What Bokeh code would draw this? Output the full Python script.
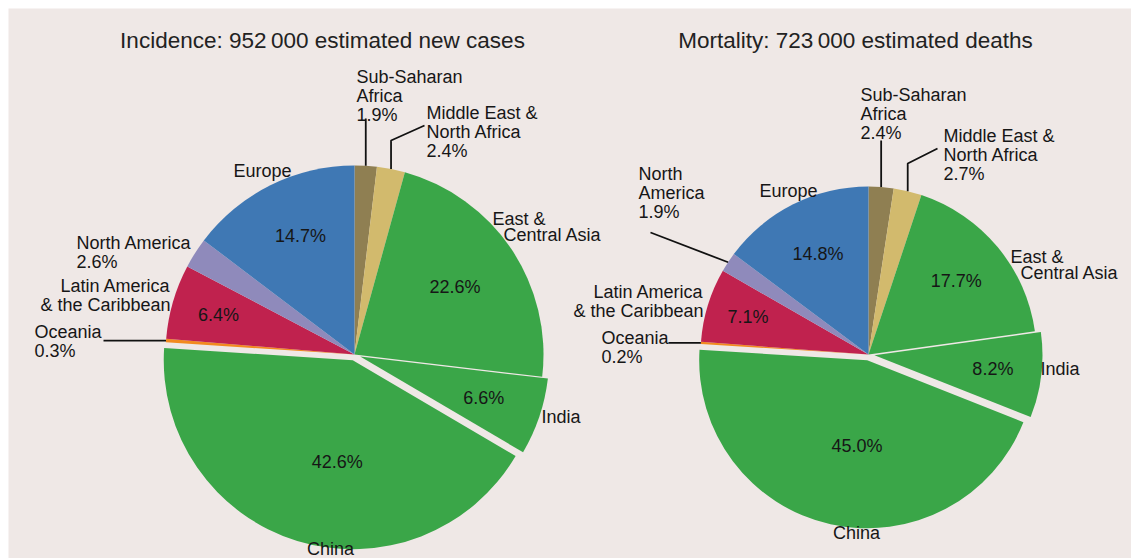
import math
import numpy as np
from bokeh.plotting import figure
from bokeh.models import Range1d
from bokeh.embed import file_html
from bokeh.resources import INLINE
from bokeh.core.properties import value

# ---------------- data ----------------
regions = ["Sub-Saharan Africa", "Middle East & North Africa", "East & Central Asia",
           "India", "China", "Oceania", "Latin America & the Caribbean",
           "North America", "Europe"]
incidence_pct = [1.9, 2.4, 22.6, 6.6, 42.6, 0.3, 6.4, 2.6, 14.7]
mortality_pct = [2.4, 2.7, 17.7, 8.2, 45.0, 0.2, 7.1, 1.9, 14.8]
incidence_title = "Incidence: 952\u2009000 estimated new cases"
mortality_title = "Mortality: 723\u2009000 estimated deaths"

# ---------------- style ----------------
slice_colors = ["#8f7f52", "#d2ba6d", "#3aa648", "#3aa648", "#3aa648",
                "#f28a1f", "#c0224e", "#8f8abb", "#3f78b4"]
exploded = ["India", "China"]
BG = "#efe8e6"
FONT = value("Liberation Sans")
TXT = "#161616"
LBL = "18px"

W, H = 1131, 558
p = figure(width=W, height=H, x_range=Range1d(8, W), y_range=Range1d(-H, -8),
           output_backend="svg", toolbar_location=None,
           min_border_left=8, min_border_top=8, min_border_right=0, min_border_bottom=0,
           x_axis_type=None, y_axis_type=None,
           background_fill_color=BG, border_fill_color="white", outline_line_color=None)
p.grid.visible = False


def Y(y):  # page layout y (downwards) -> data y
    return -y


def draw_pie(vals, cx, cy, r, d, inner_pos, title, tx, ty):
    v = np.array(vals, dtype=float)
    cum = np.concatenate([[0.0], np.cumsum(v)]) / v.sum() * 2 * math.pi
    t1, t2 = cum[:-1], cum[1:]          # clockwise from 12 o'clock
    mid = (t1 + t2) / 2
    off = np.array([d if reg in exploded else 0.0 for reg in regions])
    xs = cx + off * np.sin(mid)
    ys = Y(cy) + off * np.cos(mid)
    p.wedge(x=list(xs), y=list(ys), radius=r,
            start_angle=list(math.pi / 2 - t2), end_angle=list(math.pi / 2 - t1),
            fill_color=slice_colors, line_color=None)
    # inner percentage labels (radius fraction, angle nudge in degrees)
    lx, ly, lt = [], [], []
    for i, reg in enumerate(regions):
        if reg in inner_pos:
            frac, nudge = inner_pos[reg]
            a = mid[i] + math.radians(nudge)
            lx.append(xs[i] + frac * r * math.sin(a))
            ly.append(ys[i] + frac * r * math.cos(a))
            lt.append(f"{vals[i]:.1f}%")
    p.text(x=lx, y=ly, text=lt, text_font=FONT, text_font_size=LBL,
           text_align="center", text_baseline="middle", text_color=TXT)
    p.text(x=[tx], y=[Y(ty)], text=[title], text_font=FONT, text_font_size="22.5px",
           text_align="center", text_baseline="middle", text_color="#222222")
    # arc points for leader lines
    arc = {reg: (cx + r * math.sin(mid[i]), Y(cy) + r * math.cos(mid[i]))
           for i, reg in enumerate(regions)}
    return arc


def pct(vals, reg):
    return f"{vals[regions.index(reg)]:.1f}%"


def draw_labels(labels):
    for align in ("left", "right", "center"):
        sel = [l for l in labels if l[3] == align]
        if not sel:
            continue
        p.text(x=[l[1] for l in sel], y=[Y(l[2]) for l in sel], text=[l[0] for l in sel],
               text_font=FONT, text_font_size=LBL, text_align=align,
               text_baseline="middle", text_line_height=0.95, text_color=TXT)


def leaders(lines):
    p.multi_line(xs=[[pt[0] for pt in ln] for ln in lines],
                 ys=[[pt[1] for pt in ln] for ln in lines],
                 line_color="#111111", line_width=1.8)


# ---------------- left pie: incidence ----------------
arcL = draw_pie(incidence_pct, 354, 354, 189, 6,
                {"Europe": (0.69, 2), "East & Central Asia": (0.64, 0),
                 "Latin America & the Caribbean": (0.75, 0),
                 "India": (0.69, 0), "China": (0.545, -8.4)},
                incidence_title, 322, 40)
v = incidence_pct
draw_labels([
    ("Sub-Saharan\nAfrica\n" + pct(v, "Sub-Saharan Africa"), 356, 95, "left"),
    ("Middle East &\nNorth Africa\n" + pct(v, "Middle East & North Africa"), 426, 131, "left"),
    ("East &", 492, 218, "left"),
    ("Central Asia", 503, 234, "left"),
    ("India", 541, 416, "left"),
    ("China", 330, 548, "center"),
    ("Oceania\n" + pct(v, "Oceania"), 34, 341, "left"),
    ("Latin America\n& the Caribbean", 170, 295, "right"),
    ("North America\n" + pct(v, "North America"), 76, 252, "left"),
    ("Europe", 262, 170, "center"),
])
ax, ay = arcL["Sub-Saharan Africa"]
bx, by = arcL["Middle East & North Africa"]
ox, oy = arcL["Oceania"]
leaders([
    [(ax, ay), (ax, Y(118))],
    [(bx, by), (bx, Y(140)), (424, Y(125))],
    [(ox, oy), (103, oy)],
])

# ---------------- right pie: mortality ----------------
arcR = draw_pie(mortality_pct, 868, 354, 168, 6,
                {"Europe": (0.67, 0), "East & Central Asia": (0.68, 0),
                 "Latin America & the Caribbean": (0.75, 0),
                 "India": (0.71, 0), "China": (0.516, -5.8)},
                mortality_title, 855, 40)
v = mortality_pct
draw_labels([
    ("Sub-Saharan\nAfrica\n" + pct(v, "Sub-Saharan Africa"), 860, 113, "left"),
    ("Middle East &\nNorth Africa\n" + pct(v, "Middle East & North Africa"), 943, 154, "left"),
    ("East &", 1010, 256, "left"),
    ("Central Asia", 1020, 272, "left"),
    ("India", 1040, 368, "left"),
    ("China", 856, 532, "center"),
    ("Oceania\n" + pct(v, "Oceania"), 601, 347, "left"),
    ("Latin America\n& the Caribbean", 703, 301, "right"),
    ("North\nAmerica\n" + pct(v, "North America"), 638, 192, "left"),
    ("Europe", 788, 190, "center"),
])
ax, ay = arcR["Sub-Saharan Africa"]
bx, by = arcR["Middle East & North Africa"]
ox, oy = arcR["Oceania"]
nx, ny = arcR["North America"]
leaders([
    [(ax, ay), (ax, Y(140))],
    [(bx, by), (bx, Y(163)), (937, Y(148))],
    [(ox, oy), (668, oy)],
    [(nx, ny), (650, Y(232))],
])

open("out.html", "w").write(file_html(p, INLINE))
